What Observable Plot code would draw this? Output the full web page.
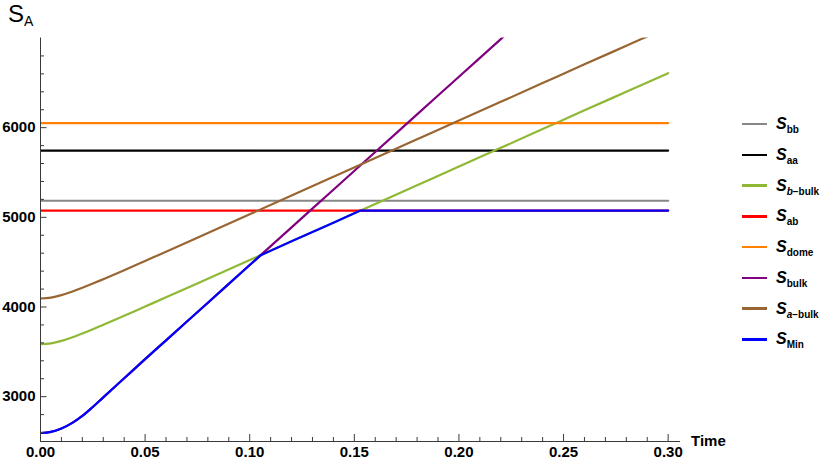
<!DOCTYPE html>
<html><head><meta charset="utf-8">
<script src="https://cdn.jsdelivr.net/npm/d3@7"></script>
<script src="https://cdn.jsdelivr.net/npm/@observablehq/plot@0.6"></script>
<style>
body{margin:0;background:#fff;font-family:"Liberation Sans",Arial,Helvetica,sans-serif;}
#wrap{position:relative;width:830px;height:466px;overflow:hidden;}
#ylab{position:absolute;left:8px;top:2px;font-size:24px;line-height:24px;color:#000;white-space:nowrap;}
#ylab sub{font-size:14px;vertical-align:-4px;line-height:0;}
#xlab{position:absolute;left:691px;top:431px;font-size:15px;font-weight:bold;line-height:20px;color:#000;}
.lg{position:absolute;left:742px;height:20px;display:flex;align-items:center;white-space:nowrap;}
.sw{display:inline-block;width:25px;height:2.5px;}
.lt{margin-left:9px;font-size:16px;font-weight:bold;line-height:20px;}
.lt sub{font-size:10px;vertical-align:-4px;line-height:0;font-style:normal;}
</style></head><body>
<div id="wrap"></div>
<script>
// ---- data ----
const seriesNames = ["bb", "aa", "b-bulk", "ab", "dome", "bulk", "a-bulk", "Min"];
const seriesColors = ["#878787", "#000000", "#8fb935", "#ff0000", "#ff8000", "#800080", "#996633", "#0000ff"];

// constant levels (drawn from t=0 to t=0.30)
const flatTime = [0, 0.30];
const S_bb = 5185;
const S_aa = 5745;
const S_ab = 5075;
const S_dome = 6050;

// curved series
const curveTime = [0, 0.005, 0.01, 0.015, 0.02, 0.025, 0.03, 0.04, 0.05, 0.06, 0.08, 0.10, 0.12, 0.14, 0.16, 0.18, 0.20, 0.22, 0.24, 0.26, 0.28, 0.30];
const S_bBulk = [3585, 3595, 3622, 3660, 3705, 3752, 3802, 3902, 4005, 4108, 4316, 4524, 4732, 4940, 5148, 5357, 5566, 5775, 5984, 6193, 6400, 6607];
const S_aBulk = [4095, 4105, 4132, 4170, 4214, 4261, 4310, 4410, 4513, 4616, 4825, 5034, 5243, 5452, 5661, 5870, 6079, 6288, 6497, 6706, 6913, 7120];

const bulkTime = [0, 0.005, 0.01, 0.015, 0.02, 0.025, 0.03, 0.04, 0.05, 0.06, 0.08, 0.10, 0.12, 0.14, 0.16, 0.18, 0.20, 0.22, 0.24];
const S_bulk = [2595, 2608, 2645, 2705, 2785, 2885, 2992, 3205, 3418, 3628, 4048, 4468, 4888, 5308, 5728, 6148, 6568, 6988, 7408];

const minTime = [0, 0.005, 0.01, 0.015, 0.02, 0.025, 0.03, 0.04, 0.05, 0.06, 0.08, 0.10, 0.1053, 0.12, 0.14, 0.1529, 0.30];
const S_Min = [2595, 2608, 2645, 2705, 2785, 2885, 2992, 3205, 3418, 3628, 4048, 4468, 4578, 4732, 4940, 5075, 5075];
const minKinkTime = 0.1053;

// axes ticks
const xMajor = [0, 0.05, 0.10, 0.15, 0.20, 0.25, 0.30];
const xMinor = [0.01,0.02,0.03,0.04,0.06,0.07,0.08,0.09,0.11,0.12,0.13,0.14,0.16,0.17,0.18,0.19,0.21,0.22,0.23,0.24,0.26,0.27,0.28,0.29];
const yMajor = [3000, 4000, 5000, 6000];
const yMinor = [2600, 2800, 3200, 3400, 3600, 3800, 4200, 4400, 4600, 4800, 5200, 5400, 5600, 5800, 6200, 6400, 6600, 6800];

// ---- build tables ----
const flat = (v) => flatTime.map(t => ({t, v}));
const zip = (ts, vs) => ts.map((t, i) => ({t, v: vs[i]}));
const tables = {
  "bb": flat(S_bb),
  "aa": flat(S_aa),
  "b-bulk": zip(curveTime, S_bBulk),
  "ab": flat(S_ab),
  "dome": flat(S_dome),
  "bulk": zip(bulkTime, S_bulk),
  "a-bulk": zip(curveTime, S_aBulk)
};
const minRows = zip(minTime, S_Min);
const axisColor = "#3a3a3a";

const lineMarks = [];
seriesNames.forEach((name, i) => {
  if (name === "Min") {
    lineMarks.push(Plot.lineY(minRows.filter(d => d.t <= minKinkTime), {x: "t", y: "v", stroke: seriesColors[i], strokeWidth: 2.2, curve: "monotone-x", clip: true}));
    lineMarks.push(Plot.lineY(minRows.filter(d => d.t >= minKinkTime), {x: "t", y: "v", stroke: seriesColors[i], strokeWidth: 2.2, curve: "linear", clip: true}));
  } else {
    const isFlat = tables[name].length === 2;
    lineMarks.push(Plot.lineY(tables[name], {x: "t", y: "v", stroke: seriesColors[i], strokeWidth: 2.2, curve: isFlat ? "linear" : "monotone-x", clip: true}));
  }
});

const chart = Plot.plot({
  width: 830, height: 466,
  marginLeft: 40, marginRight: 150, marginTop: 37.5, marginBottom: 25,
  x: {domain: [0, 0.3059]},
  y: {domain: [2500, 7000]},
  style: {fontFamily: "'Liberation Sans', Arial, sans-serif", fontSize: "15px", fontWeight: "bold", color: "#000", background: "#fff", overflow: "visible"},
  marks: [
    ...lineMarks,
    Plot.ruleY([2500], {stroke: axisColor, strokeWidth: 1}),
    Plot.ruleX([0], {stroke: axisColor, strokeWidth: 1}),
    Plot.axisX(xMinor, {tickSize: -4, tickFormat: () => "", stroke: axisColor, label: null}),
    Plot.axisX(xMajor, {tickSize: -7, tickPadding: 12, tickFormat: d3.format(".2f"), stroke: axisColor, fill: "#000", label: null}),
    Plot.axisY(yMinor, {tickSize: -4, tickFormat: () => "", stroke: axisColor, label: null}),
    Plot.axisY(yMajor, {tickSize: -6.5, tickPadding: 11.5, tickFormat: d3.format("d"), stroke: axisColor, fill: "#000", label: null})
  ]
});

const wrap = document.getElementById("wrap");
wrap.appendChild(chart);

const ylab = document.createElement("div");
ylab.id = "ylab";
ylab.innerHTML = "S<sub>A</sub>";
wrap.appendChild(ylab);

const xlab = document.createElement("div");
xlab.id = "xlab";
xlab.textContent = "Time";
wrap.appendChild(xlab);

// legend
const subHtml = {
  "bb": "bb", "aa": "aa", "b-bulk": "<i>b</i>\u2212bulk", "ab": "ab",
  "dome": "dome", "bulk": "bulk", "a-bulk": "<i>a</i>\u2212bulk", "Min": "Min"
};
seriesNames.forEach((name, i) => {
  const row = document.createElement("div");
  row.className = "lg";
  row.style.top = (114 + i * 30.76) + "px";
  row.innerHTML = `<span class="sw" style="background:${seriesColors[i]}"></span><span class="lt"><i>S</i><sub>${subHtml[name]}</sub></span>`;
  wrap.appendChild(row);
});
</script>
</body></html>
